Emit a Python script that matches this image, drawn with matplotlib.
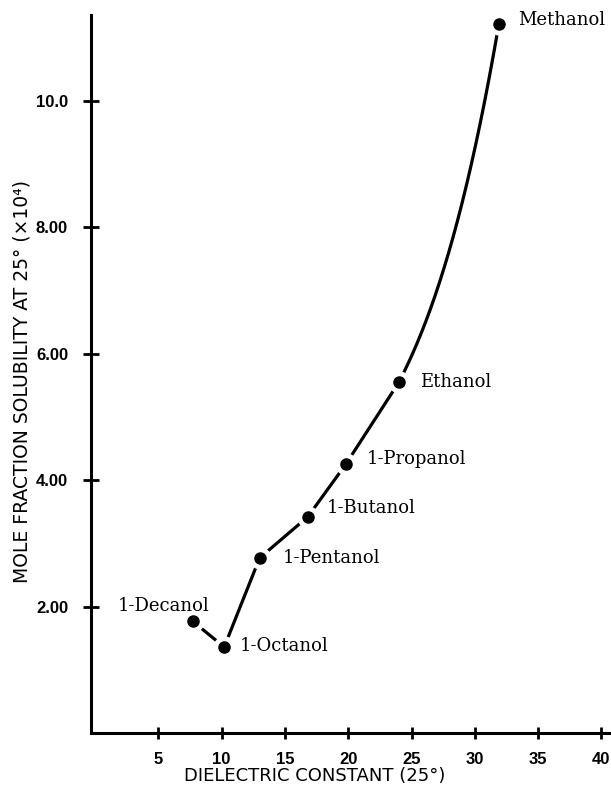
import numpy as np
import matplotlib
matplotlib.use('Agg')
import matplotlib.pyplot as plt

# values
alcohols = ['1-Decanol', '1-Octanol', '1-Pentanol', '1-Butanol',
            '1-Propanol', 'Ethanol', 'Methanol']
dielectric = [7.7, 10.2, 13.0, 16.8, 19.8, 24.0, 31.9]
solubility = [1.77, 1.36, 2.77, 3.42, 4.25, 5.55, 11.22]

x_ticks = [5, 10, 15, 20, 25, 30, 35, 40]
y_ticks = [2, 4, 6, 8, 10]
y_tick_labels = ['2.00', '4.00', '6.00', '8.00', '10.0']

# where each name sits relative to its dot (pixels)
label_offsets = {
    '1-Decanol': (-75, 15),
    '1-Octanol': (16, 1),
    '1-Pentanol': (23, 0),
    '1-Butanol': (19, 9),
    '1-Propanol': (21, 5),
    'Ethanol': (21, 0),
    'Methanol': (19, 4),
}

fig = plt.figure(figsize=(6.11, 7.88), dpi=100)
ax = fig.add_axes([0.149, 0.0698, 0.851, 0.911])

# straight pieces up to ethanol, then a smooth rise to methanol
ax.plot(dielectric[:6], solubility[:6], color='black', lw=2.3,
        solid_capstyle='butt', zorder=2)
coef = np.polyfit(dielectric[3:], solubility[3:], 3)
xs = np.linspace(dielectric[5], dielectric[6], 200)
ax.plot(xs, np.polyval(coef, xs), color='black', lw=2.3, zorder=2)

# white halo gives the little gap between line and dot
ax.plot(dielectric, solubility, 'o', ms=15, color='white', zorder=3)
ax.plot(dielectric, solubility, 'o', ms=8, color='black', zorder=4)

for name, x, y in zip(alcohols, dielectric, solubility):
    dx, dy = label_offsets[name]
    ax.annotate(name, (x, y), xytext=(dx, dy), textcoords='offset pixels',
                ha='left', va='center', fontsize=13, family='DejaVu Serif')

ax.set_xlim(-0.32, 40.76)
ax.set_ylim(0, 11.36)

for side in ['top', 'right']:
    ax.spines[side].set_visible(False)
for side in ['left', 'bottom']:
    ax.spines[side].set_linewidth(2.2)

ax.set_xticks(x_ticks)
ax.set_xticklabels([str(t) for t in x_ticks], fontweight='bold',
                   family='Liberation Sans', fontsize=12)
ax.set_yticks(y_ticks)
ax.set_yticklabels(y_tick_labels, fontweight='bold', family='Liberation Sans',
                   fontsize=12)
ax.tick_params(direction='inout', width=2)
ax.tick_params(axis='x', length=9, pad=9)
ax.tick_params(axis='y', length=11, pad=11)

ax.set_xlabel('DIELECTRIC CONSTANT (25°)', fontsize=13)
ax.xaxis.set_label_coords(0.43, -0.048)
ax.set_ylabel('MOLE FRACTION SOLUBILITY AT 25° (×10⁴)', fontsize=13.5)
ax.yaxis.set_label_coords(-0.115, 0.49)

fig.savefig('out.png', dpi=100)
